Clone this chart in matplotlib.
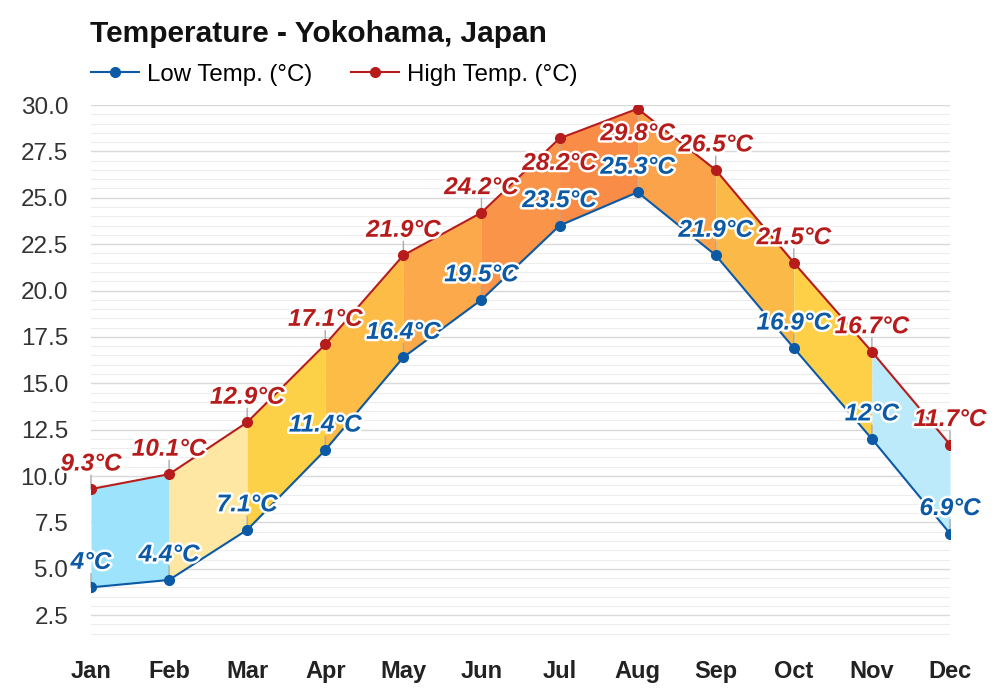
import numpy as np
import matplotlib
matplotlib.use("Agg")
import matplotlib.pyplot as plt
import matplotlib.patheffects as pe

plt.rcParams["font.family"] = ["Liberation Sans", "DejaVu Sans"]

months = ["Jan", "Feb", "Mar", "Apr", "May", "Jun", "Jul", "Aug", "Sep", "Oct", "Nov", "Dec"]
low_temp = [4.0, 4.4, 7.1, 11.4, 16.4, 19.5, 23.5, 25.3, 21.9, 16.9, 12.0, 6.9]
high_temp = [9.3, 10.1, 12.9, 17.1, 21.9, 24.2, 28.2, 29.8, 26.5, 21.5, 16.7, 11.7]
low_labels = ["4°C", "4.4°C", "7.1°C", "11.4°C", "16.4°C", "19.5°C", "23.5°C", "25.3°C",
              "21.9°C", "16.9°C", "12°C", "6.9°C"]
high_labels = ["9.3°C", "10.1°C", "12.9°C", "17.1°C", "21.9°C", "24.2°C", "28.2°C", "29.8°C",
               "26.5°C", "21.5°C", "16.7°C", "11.7°C"]
# fill colour between month i and i+1
band_colors = ["#9de3fb", "#fde7a2", "#fdd147", "#fcbc45", "#fba94a", "#fa9448",
               "#f98c46", "#faa34a", "#fbba48", "#fdd048", "#bdeafa"]
# labels drawn under the point instead of above
high_below = [6, 7]

low_color = "#0c5aa6"
high_color = "#b71c1c"

fig = plt.figure(figsize=(10, 7), dpi=100)
ax = fig.add_axes([0.091, 0.0814, 0.859, 0.7686])

x = np.arange(len(months))

# grid
for v in np.arange(1.0, 30.01, 0.5):
    major = abs(v / 2.5 - round(v / 2.5)) < 1e-6
    ax.axhline(v, color="#d9d9d9" if major else "#ededed", lw=1.0 if major else 0.8, zorder=0)

# coloured bands
for i in range(len(months) - 1):
    ax.fill_between(x[i:i + 2], low_temp[i:i + 2], high_temp[i:i + 2],
                    color=band_colors[i], lw=0, zorder=1)

ax.plot(x, low_temp, color=low_color, lw=1.5, marker="o", ms=7, zorder=3,
        label="Low Temp. (°C)")
ax.plot(x, high_temp, color=high_color, lw=1.5, marker="o", ms=7, zorder=3,
        label="High Temp. (°C)")

outline = [pe.withStroke(linewidth=3.5, foreground="white")]


def put_label(xi, yi, text, color, below=False):
    sign = -1 if below else 1
    ax.annotate("", xy=(xi, yi), xytext=(0, sign * 10), textcoords="offset points",
                arrowprops=dict(arrowstyle="-", color="#aaaaaa", lw=1, shrinkA=0, shrinkB=0),
                zorder=2)
    ax.annotate(text, xy=(xi, yi), xytext=(0, sign * 18), textcoords="offset points",
                ha="center", va="center", fontsize=17.5, fontweight="bold", fontstyle="italic",
                color=color, path_effects=outline, zorder=5)


for i in range(len(months)):
    put_label(x[i], low_temp[i], low_labels[i], low_color)
    put_label(x[i], high_temp[i], high_labels[i], high_color, below=i in high_below)

ax.set_xlim(0, 11)
ax.set_ylim(1.0, 30.0)
ax.set_xticks(x)
ax.set_xticklabels(months, fontsize=17, fontweight="bold", color="#222222")
yt = np.arange(2.5, 30.01, 2.5)
ax.set_yticks(yt)
ax.set_yticklabels([f"{v:.1f}" for v in yt], fontsize=17.5, color="#333333")
ax.tick_params(length=0, pad=12, axis="x")
ax.tick_params(length=0, pad=16.5, axis="y")
for s in ax.spines.values():
    s.set_visible(False)

fig.text(0.09, 0.951, "Temperature - Yokohama, Japan", fontsize=21.5, fontweight="bold",
         ha="left", va="center", color="#111111")
fig.legend(loc="center left", bbox_to_anchor=(0.069, 0.893), ncol=2, frameon=False,
           fontsize=17.3, handlelength=2.0, handletextpad=0.33, columnspacing=1.62)

fig.savefig("out.png", dpi=100)
